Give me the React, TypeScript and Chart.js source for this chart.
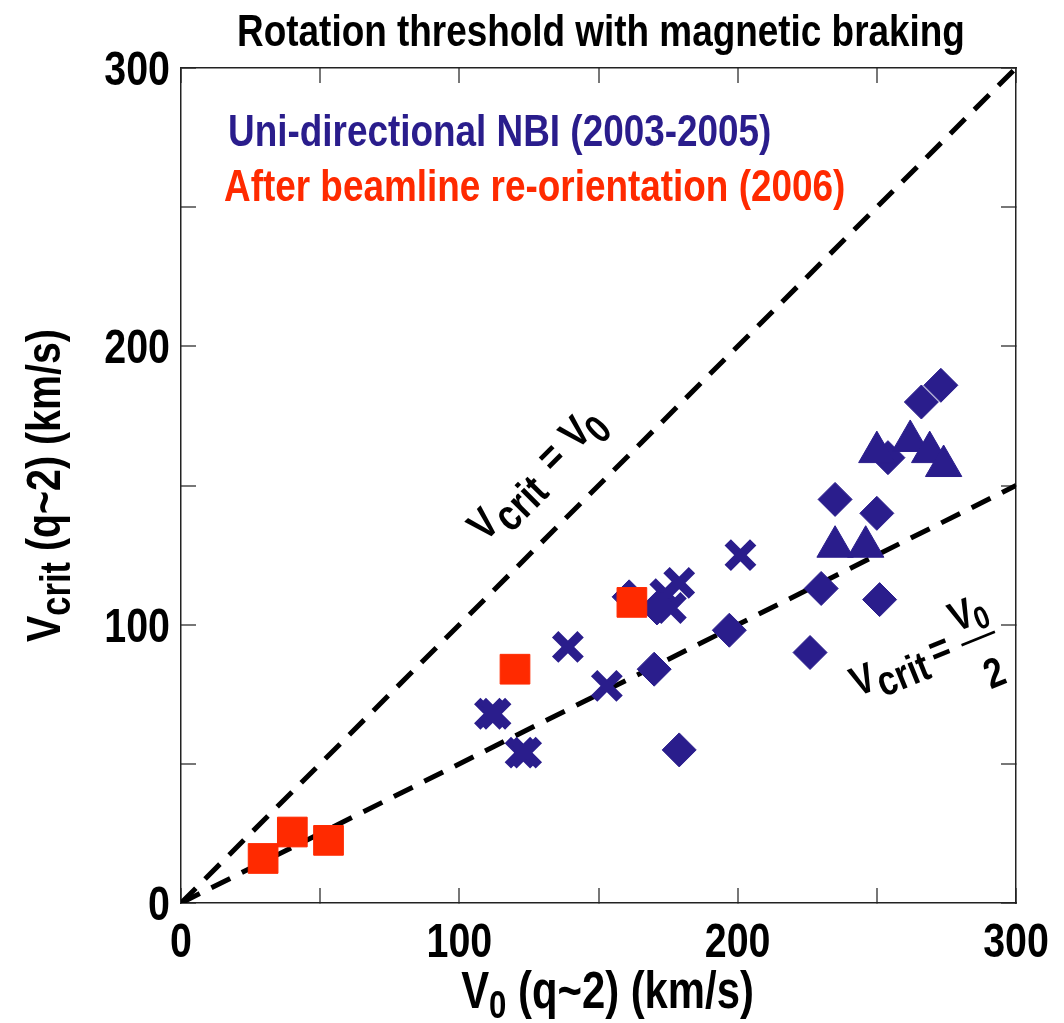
import React, { useEffect, useRef } from 'react';
import { Chart, registerables } from 'chart.js';

Chart.register(...registerables);

const FONT = "'Liberation Sans', Arial, Helvetica, sans-serif";
const SQUEEZE = 0.82; // Helvetica Narrow look
const BLUE = '#2a1d8c';
const RED = '#ff2a00';

const TITLE = 'Rotation threshold with magnetic braking';
const LEGEND_BLUE = 'Uni-directional NBI (2003-2005)';
const LEGEND_RED = 'After beamline re-orientation (2006)';

// Uni-directional NBI: crosses
const crossX = [111, 113, 122, 124, 139, 153, 174, 176, 179, 201];
const crossY = [68, 68, 54, 54, 92, 78, 111, 106, 115, 125];
// Uni-directional NBI: diamonds
const diamondX = [161, 171, 170, 179, 197, 226, 230, 251, 235, 250, 254, 266, 273];
const diamondY = [110, 106, 84, 55, 98, 90, 113, 109, 145, 140, 160, 180, 186];
// Uni-directional NBI: triangles
const triangleX = [235, 246, 250, 262, 269, 274];
const triangleY = [128, 128, 162, 166, 162, 157];
// After beamline re-orientation: squares
const squareX = [29.5, 40, 53, 120, 162];
const squareY = [16, 25.5, 22.5, 84, 108];
// Reference lines Vcrit = V0 and Vcrit = V0/2
const lineFullX = [0, 300];
const lineFullY = [0, 300];
const lineHalfX = [0, 300];
const lineHalfY = [0, 150];

const xTickLabels = [0, 100, 200, 300];
const yTickLabels = [0, 100, 200, 300];

const toPts = (xs: number[], ys: number[]) => xs.map((x, i) => ({ x, y: ys[i] }));

type Part = { t: string; size: number; dy?: number; dx?: number };

function setFont(ctx: CanvasRenderingContext2D, size: number) {
  ctx.font = `bold ${size}px ${FONT}`;
}

function txt(
  ctx: CanvasRenderingContext2D,
  s: string,
  x: number,
  y: number,
  size: number,
  align: CanvasTextAlign = 'left'
) {
  ctx.save();
  ctx.translate(x, y);
  ctx.scale(SQUEEZE, 1);
  setFont(ctx, size);
  ctx.textAlign = align;
  ctx.textBaseline = 'alphabetic';
  ctx.fillText(s, 0, 0);
  ctx.restore();
}

function partsWidth(ctx: CanvasRenderingContext2D, parts: Part[]) {
  let total = 0;
  parts.forEach((p) => {
    setFont(ctx, p.size);
    total += ctx.measureText(p.t).width * SQUEEZE + (p.dx || 0);
  });
  return total;
}

function drawParts(
  ctx: CanvasRenderingContext2D,
  parts: Part[],
  x: number,
  y: number,
  align: 'left' | 'center',
  color: string
) {
  ctx.fillStyle = color;
  const total = partsWidth(ctx, parts);
  let cx = align === 'center' ? x - total / 2 : x;
  parts.forEach((p) => {
    cx += p.dx || 0;
    txt(ctx, p.t, cx, y + (p.dy || 0), p.size, 'left');
    setFont(ctx, p.size);
    cx += ctx.measureText(p.t).width * SQUEEZE;
  });
}

const textPlugin = {
  id: 'texts',
  afterDraw(chart: any) {
    const ctx: CanvasRenderingContext2D = chart.ctx;
    const area = chart.chartArea;
    const sx = chart.scales.x;
    const sy = chart.scales.y;
    ctx.save();

    // tick labels, placed by the chart's own scales
    ctx.fillStyle = '#000';
    sx.ticks.forEach((tk: any) => {
      if (!xTickLabels.includes(tk.value)) return;
      txt(ctx, String(tk.value), sx.getPixelForValue(tk.value), 957, 48, 'center');
    });
    sy.ticks.forEach((tk: any) => {
      if (!yTickLabels.includes(tk.value)) return;
      txt(ctx, String(tk.value), 170, sy.getPixelForValue(tk.value) + 17, 48, 'right');
    });

    // title
    drawParts(ctx, [{ t: TITLE, size: 45 }], 601, 46, 'center', '#000');
    // legend
    drawParts(ctx, [{ t: LEGEND_BLUE, size: 45 }], 228, 146, 'left', BLUE);
    drawParts(ctx, [{ t: LEGEND_RED, size: 45 }], 224, 201, 'left', RED);
    // x axis title
    drawParts(
      ctx,
      [
        { t: 'V', size: 51 },
        { t: '0', size: 38, dy: 10 },
        { t: ' (q~2) (km/s)', size: 51 },
      ],
      (area.left + area.right) / 2 + 9,
      1008,
      'center',
      '#000'
    );
    // y axis title
    ctx.save();
    ctx.translate(60, (area.top + area.bottom) / 2);
    ctx.rotate(-Math.PI / 2);
    drawParts(
      ctx,
      [
        { t: 'V', size: 48 },
        { t: 'crit', size: 42, dy: 10 },
        { t: ' (q~2) (km/s)', size: 48 },
      ],
      0,
      0,
      'center',
      '#000'
    );
    ctx.restore();

    // Vcrit = V0 label
    ctx.save();
    ctx.translate(sx.getPixelForValue(109.2), sy.getPixelForValue(129.4));
    ctx.rotate(-Math.PI / 4);
    ctx.fillStyle = '#000';
    txt(ctx, 'V', 0, 0, 43);
    txt(ctx, 'crit', 25, 12, 44);
    txt(ctx, '=', 97, 0, 43);
    txt(ctx, 'V', 130, 0, 43);
    txt(ctx, '0', 151, 13, 40);
    ctx.restore();

    // Vcrit = V0/2 label
    ctx.save();
    ctx.translate(sx.getPixelForValue(243), sy.getPixelForValue(74));
    ctx.rotate((-22 * Math.PI) / 180);
    ctx.fillStyle = '#000';
    txt(ctx, 'V', 0, 0, 42);
    txt(ctx, 'crit', 24, 10, 42);
    txt(ctx, '=', 84, 0, 42);
    txt(ctx, 'V', 127, -23, 42, 'center');
    txt(ctx, '0', 145, -16, 32, 'center');
    txt(ctx, '2', 136, 43, 42, 'center');
    ctx.strokeStyle = '#000';
    ctx.lineWidth = 2.5;
    ctx.beginPath();
    ctx.moveTo(116, -9);
    ctx.lineTo(152, -9);
    ctx.stroke();
    ctx.restore();

    ctx.restore();
  },
};

export default function App() {
  const ref = useRef<HTMLCanvasElement | null>(null);
  useEffect(() => {
    if (!ref.current) return;
    const gridOpts = { drawOnChartArea: false, tickLength: -15, color: '#777', lineWidth: 2 };
    const borderOpts = { color: '#222', width: 1.5 };
    const zeroPad = (s: any) => {
      s.paddingLeft = 0;
      s.paddingRight = 0;
      s.paddingTop = 0;
      s.paddingBottom = 0;
    };
    const chart = new Chart(ref.current, {
      type: 'scatter',
      data: {
        datasets: [
          {
            label: 'After beamline re-orientation (2006)',
            data: toPts(squareX, squareY),
            pointStyle: 'rect',
            pointRadius: 21,
            pointBackgroundColor: RED,
            pointBorderColor: RED,
            pointBorderWidth: 1,
            order: 0,
          },
          {
            label: 'Uni-directional NBI (diamond)',
            data: toPts(diamondX, diamondY),
            pointStyle: 'rectRot',
            pointRadius: 17,
            pointBackgroundColor: BLUE,
            pointBorderColor: BLUE,
            pointBorderWidth: 1,
            order: 2,
          },
          {
            label: 'Uni-directional NBI (triangle)',
            data: toPts(triangleX, triangleY),
            pointStyle: 'triangle',
            pointRadius: 21,
            pointBackgroundColor: BLUE,
            pointBorderColor: BLUE,
            pointBorderWidth: 1,
            order: 1,
          },
          {
            label: 'Uni-directional NBI (cross)',
            data: toPts(crossX, crossY),
            pointStyle: 'crossRot',
            pointRadius: 18,
            pointBackgroundColor: BLUE,
            pointBorderColor: BLUE,
            pointBorderWidth: 9,
            order: 3,
          },
          {
            label: 'Vcrit = V0',
            data: toPts(lineFullX, lineFullY),
            showLine: true,
            borderColor: '#000',
            borderWidth: 5,
            borderDash: [21, 13],
            pointRadius: 0,
            order: 10,
          },
          {
            label: 'Vcrit = V0/2',
            data: toPts(lineHalfX, lineHalfY),
            showLine: true,
            borderColor: '#000',
            borderWidth: 5,
            borderDash: [21, 13],
            pointRadius: 0,
            order: 10,
          },
        ],
      },
      options: {
        responsive: false,
        animation: false,
        layout: { padding: { top: 68, right: 48, left: 0, bottom: 0 } },
        plugins: {
          legend: { display: false },
          tooltip: { enabled: false },
          title: { display: false },
        },
        scales: {
          x: {
            type: 'linear',
            position: 'bottom',
            min: 0,
            max: 300,
            ticks: { stepSize: 50, display: false },
            grid: gridOpts,
            border: borderOpts,
            afterFit: (s: any) => {
              s.height = 120;
              zeroPad(s);
            },
          },
          y: {
            type: 'linear',
            position: 'left',
            min: 0,
            max: 300,
            ticks: { stepSize: 50, display: false },
            grid: gridOpts,
            border: borderOpts,
            afterFit: (s: any) => {
              s.width = 181;
              zeroPad(s);
            },
          },
          x2: {
            type: 'linear',
            position: 'top',
            min: 0,
            max: 300,
            ticks: { stepSize: 50, display: false },
            grid: gridOpts,
            border: borderOpts,
            afterFit: (s: any) => {
              s.height = 0;
              zeroPad(s);
            },
          },
          y2: {
            type: 'linear',
            position: 'right',
            min: 0,
            max: 300,
            ticks: { stepSize: 50, display: false },
            grid: gridOpts,
            border: borderOpts,
            afterFit: (s: any) => {
              s.width = 0;
              zeroPad(s);
            },
          },
        },
      },
      plugins: [textPlugin],
    });
    return () => chart.destroy();
  }, []);
  return (
    <div style={{ position: 'absolute', left: 0, top: 0, width: 1064, height: 1023, background: '#fff' }}>
      <canvas ref={ref} width={1064} height={1023} style={{ display: 'block' }} />
    </div>
  );
}
